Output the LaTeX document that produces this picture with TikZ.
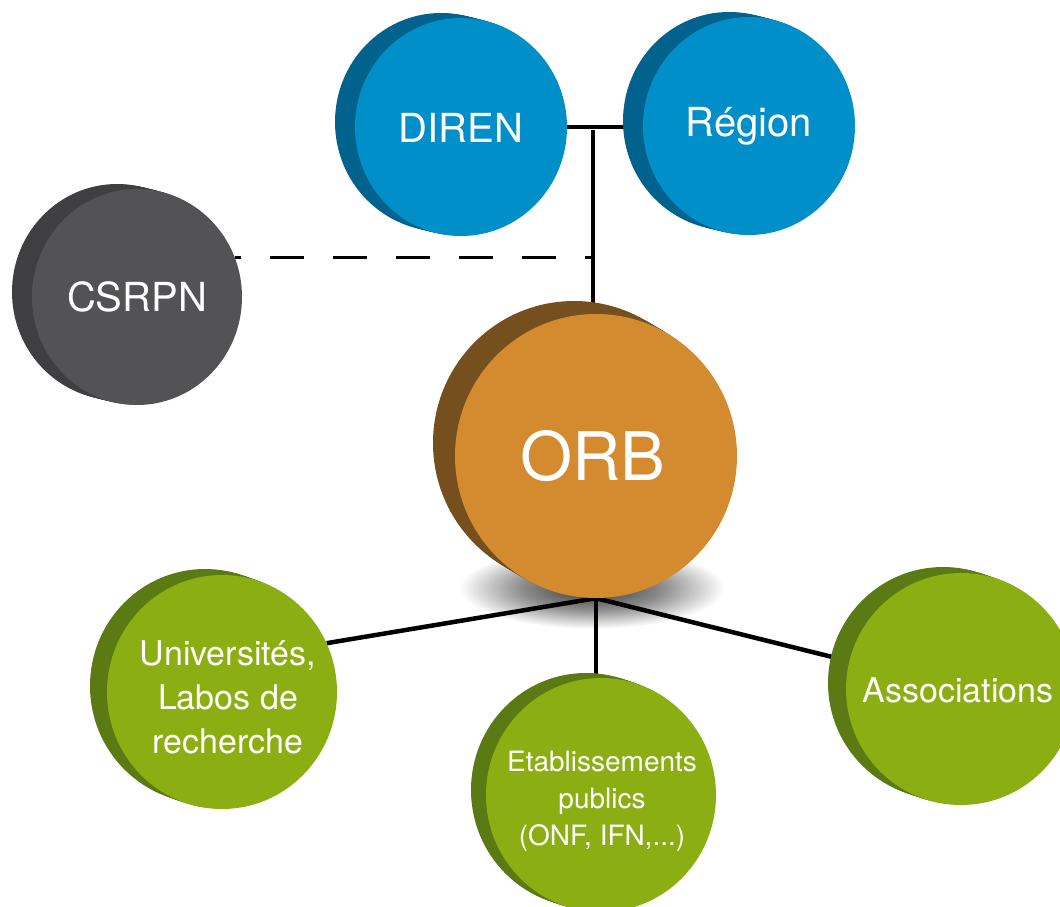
\documentclass[tikz,border=0pt]{standalone}
\usepackage{fontspec}
\setmainfont{TeX Gyre Heros}
\usepackage{tikz}
\usetikzlibrary{shapes.geometric,backgrounds}

\definecolor{bleu}{HTML}{008FC9}
\definecolor{bleuside}{HTML}{00628D}
\definecolor{gris}{HTML}{535355}
\definecolor{grisside}{HTML}{3F3F41}
\definecolor{orange}{HTML}{D48B30}
\definecolor{orangeside}{HTML}{754F1D}
\definecolor{vert}{HTML}{8BAF13}
\definecolor{vertside}{HTML}{5C7A14}

% soft shadow, white well before the edge of the path
\pgfdeclareradialshading{orbshadow}{\pgfpoint{0bp}{0bp}}{%
  color(0bp)=(black!80); color(9bp)=(black!45); color(17bp)=(white); color(25bp)=(white)}

\begin{document}
\begin{tikzpicture}[x=1pt, y=-1pt,
  disc/.style={ellipse, inner sep=0pt, draw=none},
  link/.style={line width=4.5pt},
  txt/.style={text=white, align=center, inner sep=0pt},
  big/.style={font=\fontsize{40}{48}\selectfont},
  huge/.style={font=\fontsize{67}{80}\selectfont},
  mid/.style={font=\fontsize{34}{44}\selectfont},
  small/.style={font=\fontsize{28}{37}\selectfont}]
\useasboundingbox (0,0) rectangle (1060,906);
% Discs: darker side made of stacked ellipses, then the front face and its text
\foreach \n/\x/\y/\rx/\ry/\dx/\dy/\front/\side/\s/\tx/\ty/\lbl in {
    diren/461/127/106/109/-20/-5/bleu/bleuside/big/0/1/DIREN,
    region/749/126/106/109/-20/-5/bleu/bleuside/big/0/0/Région,
    csrpn/137/297/105/108/-20/-5/gris/grisside/big/0/0/CSRPN,
    orb/596/456/141/142/-22/-13/orange/orangeside/huge/-3/0/ORB,
    univ/222/692/115/117/-17/-6/vert/vertside/mid/6/5/{Universités,\\Labos de\\recherche},
    etab/601/795/115/117/-15/-5/vert/vertside/small/1/6/{Etablissements\\publics\\(ONF, IFN,...)},
    assoc/961/689/115/116/-18/-6/vert/vertside/mid/-3/1/Associations} {
    \foreach \k in {10,...,1}
        \fill[\side] (\x+\k*\dx/10,\y+\k*\dy/10) ellipse [x radius=\rx, y radius=\ry];
    \node[disc, fill=\front, minimum width=2*\rx, minimum height=2*\ry] (\n) at (\x,\y) {};
    \node[txt, \s] (\n-t) at (\x+\tx,\y+\ty) {\lbl};
}
% Shadow and links behind the discs
\begin{scope}[on background layer]
    \shade[shading=orbshadow] (592,588) ellipse (195 and 60);
    \coordinate (tee) at (593,130);
    \draw[link] (diren.east) -- (diren.east -| region.west);
    \draw[link] (tee) -- (tee |- orb.north);
    \draw[line width=3pt, dash pattern=on 34pt off 29pt, dash phase=28pt] (csrpn.22) -- (csrpn.22 -| tee);
    \draw[link] (orb.south) -- (univ.25);
    \draw[link] (orb.south) -- (orb.south |- etab.north);
    \draw[link] (orb.south) -- (assoc.center);
\end{scope}
\end{tikzpicture}
\end{document}
